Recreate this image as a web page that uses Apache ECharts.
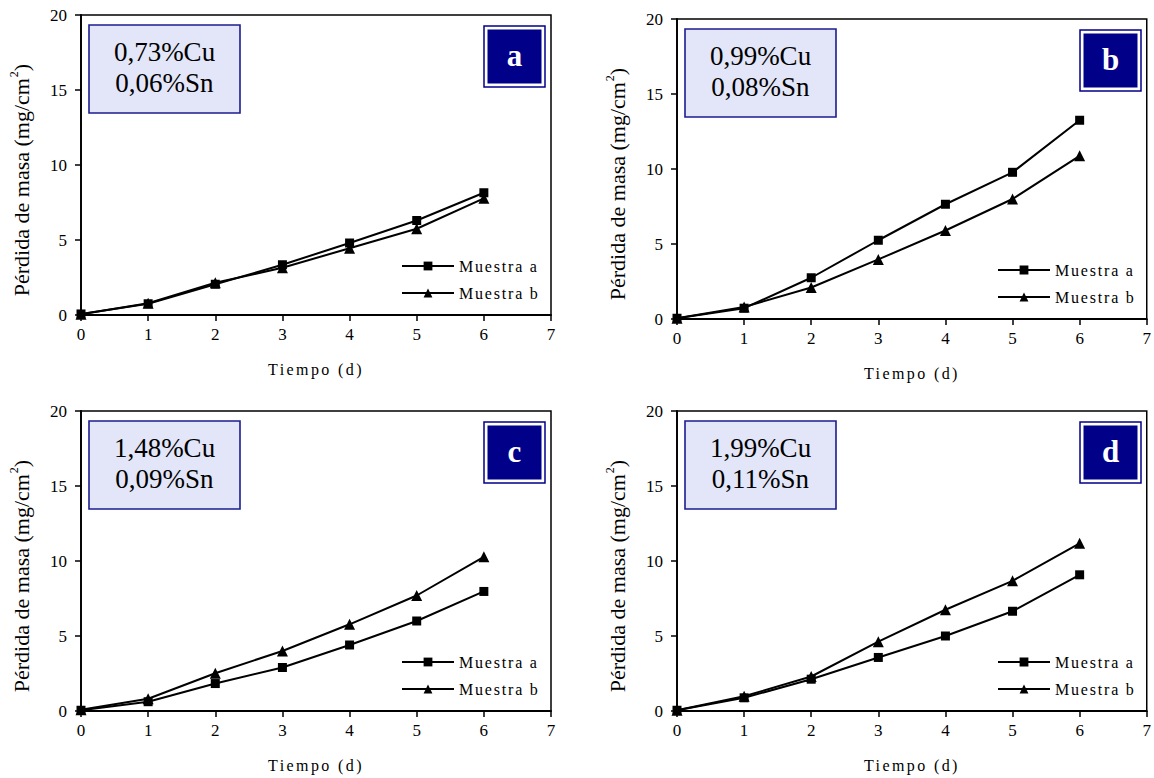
<!DOCTYPE html>
<html>
<head>
<meta charset="utf-8">
<script src="https://cdn.jsdelivr.net/npm/echarts@6/dist/echarts.min.js"></script>
<style>
  html, body { margin: 0; padding: 0; background: #fff; }
  #chart { width: 1154px; height: 778px; }
  /* spaced-out lettering for legend entries and the time-axis title */
  #chart text[style*="Times New Roman"] { letter-spacing: 1.8px; }
  #chart text[style*="Nimbus Roman"] { letter-spacing: 2.4px; }
</style>
</head>
<body>
<div id="chart"></div>
<script>
// Exposure time (days)
const days = [0, 1, 2, 3, 4, 5, 6];

// Mass loss (mg/cm²) per alloy, two specimens each
const lossA_muestraA = [0.07, 0.75, 2.05, 3.35, 4.80, 6.30, 8.15];
const lossA_muestraB = [0.05, 0.78, 2.15, 3.15, 4.45, 5.75, 7.78];
const lossB_muestraA = [0.05, 0.72, 2.75, 5.25, 7.65, 9.78, 13.25];
const lossB_muestraB = [0.05, 0.80, 2.10, 3.97, 5.90, 8.00, 10.88];
const lossC_muestraA = [0.05, 0.62, 1.83, 2.90, 4.40, 6.00, 7.97];
const lossC_muestraB = [0.08, 0.82, 2.52, 4.00, 5.78, 7.70, 10.28];
const lossD_muestraA = [0.05, 0.88, 2.12, 3.57, 5.00, 6.65, 9.08];
const lossD_muestraB = [0.05, 0.98, 2.30, 4.62, 6.75, 8.68, 11.18];

// Panel annotations
const panelLetters = ['a', 'b', 'c', 'd'];
const cuLabels = ['0,73%Cu', '0,99%Cu', '1,48%Cu', '1,99%Cu'];
const snLabels = ['0,06%Sn', '0,08%Sn', '0,09%Sn', '0,11%Sn'];
const seriesNames = ['Muestra a', 'Muestra b'];

// Axis ranges and labels
const xMin = 0, xMax = 7, xStep = 1;
const yMin = 0, yMax = 20, yStep = 5;
const xAxisTitle = 'Tiempo (d)';
const yAxisTitle = 'Pérdida de masa (mg/cm{sup|2})';

const panelData = [
  [lossA_muestraA, lossA_muestraB],
  [lossB_muestraA, lossB_muestraB],
  [lossC_muestraA, lossC_muestraB],
  [lossD_muestraA, lossD_muestraB]
];

// Layout of the four plot areas (px)
const grids = [
  { left: 81,  top: 15,  width: 470, height: 300 },
  { left: 677, top: 19,  width: 470, height: 300 },
  { left: 81,  top: 411, width: 470, height: 300 },
  { left: 677, top: 411, width: 470, height: 300 }
];

const SERIF = "Liberation Serif";
const SERIF_LEGEND = "Liberation Serif, Times New Roman";
const SERIF_XNAME = "Liberation Serif, Nimbus Roman";
const NAVY = '#000088';
const BOX_BORDER = '#1c1c90';
const BOX_FILL = '#e3e6f8';

const chart = echarts.init(document.getElementById('chart'), null, { renderer: 'svg' });

const option = {
  animation: false,
  backgroundColor: '#fff',
  grid: grids.map(g => ({
    left: g.left, top: g.top, width: g.width, height: g.height,
    show: true, borderColor: '#000', borderWidth: 1.5, backgroundColor: 'transparent',
    containLabel: false
  })),
  xAxis: grids.map((g, i) => ({
    type: 'value', gridIndex: i,
    min: xMin, max: xMax, interval: xStep,
    splitLine: { show: false },
    axisLine: { show: true, onZero: false, lineStyle: { color: '#000', width: 1.8 } },
    axisTick: { show: true, inside: false, length: 6, lineStyle: { color: '#000', width: 1.5 } },
    axisLabel: { color: '#000', fontFamily: SERIF, fontSize: 17, margin: 11 },
    name: xAxisTitle, nameLocation: 'middle', nameGap: 46,
    nameTextStyle: { color: '#000', fontFamily: SERIF_XNAME, fontSize: 16 }
  })),
  yAxis: grids.map((g, i) => ({
    type: 'value', gridIndex: i,
    min: yMin, max: yMax, interval: yStep,
    splitLine: { show: false },
    axisLine: { show: true, onZero: false, lineStyle: { color: '#000', width: 1.8 } },
    axisTick: { show: true, inside: false, length: 6, lineStyle: { color: '#000', width: 1.5 } },
    axisLabel: { color: '#000', fontFamily: SERIF, fontSize: 17, margin: 14 },
    name: yAxisTitle, nameLocation: 'middle', nameGap: 47,
    nameTextStyle: {
      color: '#000', fontFamily: SERIF, fontSize: 22,
      padding: [0, 30, 0, 0],
      rich: { sup: { color: '#000', fontFamily: SERIF, fontSize: 12, padding: [0, 0, 14, 1] } }
    }
  })),
  legend: grids.map(g => ({
    data: seriesNames,
    orient: 'vertical',
    padding: 0,
    left: g.left + 320,
    top: g.top + g.height - 57,
    itemWidth: 52, itemHeight: 11, itemGap: 11,
    selectedMode: false,
    textStyle: { color: '#000', fontFamily: SERIF_LEGEND, fontSize: 16 }
  })),
  series: [],
  graphic: []
};

panelData.forEach((pair, i) => {
  pair.forEach((values, s) => {
    option.series.push({
      type: 'line',
      name: seriesNames[s],
      xAxisIndex: i, yAxisIndex: i,
      data: days.map((d, k) => [d, values[k]]),
      symbol: s === 0 ? 'rect' : 'triangle',
      symbolSize: s === 0 ? 9 : 11,
      showSymbol: true,
      lineStyle: { color: '#000', width: 2 },
      itemStyle: { color: '#000' },
      emphasis: { disabled: true },
      z: 3 + s
    });
  });
});

// Composition boxes and panel letters, placed relative to each plot area
grids.forEach((g, i) => {
  const bx = g.left + 8, by = g.top + 10, bw = 151, bh = 88;
  option.graphic.push(
    {
      type: 'rect', z: 10,
      shape: { x: bx, y: by, width: bw, height: bh },
      style: { fill: BOX_FILL, stroke: BOX_BORDER, lineWidth: 1.6 }
    },
    {
      type: 'text', z: 11,
      style: { x: bx + bw / 2, y: by + 27, text: cuLabels[i], fill: '#000',
        font: "27px 'Liberation Serif', serif", textAlign: 'center', textVerticalAlign: 'middle' }
    },
    {
      type: 'text', z: 11,
      style: { x: bx + bw / 2, y: by + 58, text: snLabels[i], fill: '#000',
        font: "27px 'Liberation Serif', serif", textAlign: 'center', textVerticalAlign: 'middle' }
    }
  );
  const right = g.left + g.width;
  const lx = right - 67, ly = g.top + 11, ls = 61;
  option.graphic.push(
    {
      type: 'rect', z: 10,
      shape: { x: lx, y: ly, width: ls, height: ls },
      style: { fill: '#fff', stroke: NAVY, lineWidth: 1.5 }
    },
    {
      type: 'rect', z: 11,
      shape: { x: lx + 3.5, y: ly + 3.5, width: ls - 7, height: ls - 7 },
      style: { fill: NAVY }
    },
    {
      type: 'text', z: 12,
      style: { x: lx + ls / 2, y: ly + ls / 2 - 1, text: panelLetters[i], fill: '#fff',
        font: "bold 31px 'Liberation Serif', serif", textAlign: 'center', textVerticalAlign: 'middle' }
    }
  );
});

chart.setOption(option);
</script>
</body>
</html>
